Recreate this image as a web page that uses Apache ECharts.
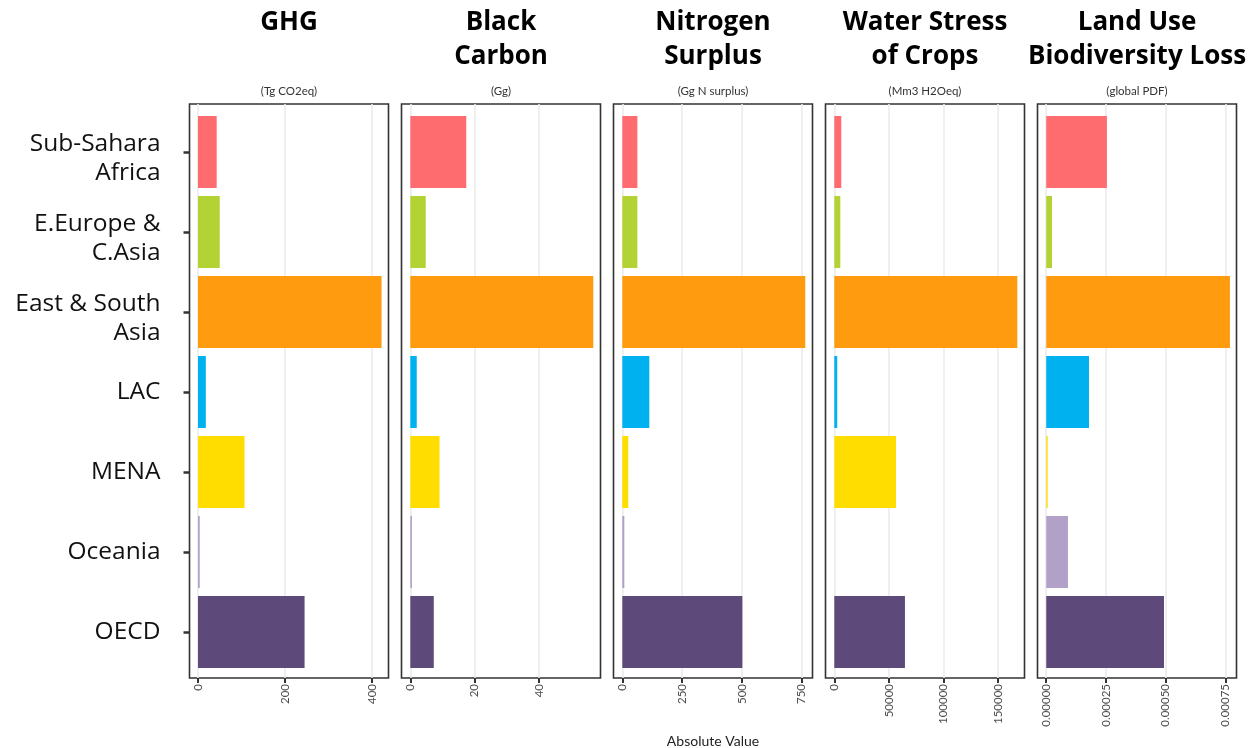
<!DOCTYPE html>
<html>
<head>
<meta charset="utf-8">
<script src="https://cdn.jsdelivr.net/npm/echarts@6/dist/echarts.min.js"></script>
<style>
  html, body { margin: 0; padding: 0; background: #ffffff; }
  #chart { width: 1252px; height: 748px; }
</style>
</head>
<body>
<div id="chart"></div>
<script>
// Regions (rows, top to bottom)
const regions = ["Sub-Sahara\nAfrica", "E.Europe &\nC.Asia", "East & South\nAsia", "LAC", "MENA", "Oceania", "OECD"];
const regionColors = ["#FF6C70", "#B3D335", "#FF9B0E", "#00B1F0", "#FFDD00", "#B1A1C8", "#5E4A7A"];

// Indicator values per region
const ghg = [43, 50, 422, 18, 107, 4, 245];
const blackCarbon = [17.4, 4.8, 56.9, 2.0, 9.1, 0.5, 7.3];
const nitrogenSurplus = [63, 63, 765, 113, 25, 8.5, 502];
const waterStress = [6400, 5500, 167600, 2700, 56500, 0, 64700];
const landUseBiodiversity = [0.000254, 0.000024, 0.000769, 0.000179, 0.000006, 0.000091, 0.000493];

// Panel titles, units and tick labels
const panelTitles = ["GHG", "Black\nCarbon", "Nitrogen\nSurplus", "Water Stress\nof Crops", "Land Use\nBiodiversity Loss"];
const panelUnits = ["(Tg CO2eq)", "(Gg)", "(Gg N surplus)", "(Mm3 H2Oeq)", "(global PDF)"];
const ghgTicks = [0, 200, 400];
const blackCarbonTicks = [0, 20, 40];
const nitrogenTicks = [0, 250, 500, 750];
const waterTicks = [0, 50000, 100000, 150000];
const landUseTicks = [0, 0.00025, 0.0005, 0.00075];
const xAxisTitle = "Absolute Value";

const panelValues = [ghg, blackCarbon, nitrogenSurplus, waterStress, landUseBiodiversity];
const panelTicks = [ghgTicks, blackCarbonTicks, nitrogenTicks, waterTicks, landUseTicks];

// Layout: each facet panel and its free x range
const panelLeft = [189.5, 401.5, 613.5, 825.5, 1037.5];
const panelWidth = 199;
const frameTop = 104, frameHeight = 574;
const barTop = 112, barHeight = 560;
const xRanges = [
  [-19.5, 437.9],
  [-2.74, 59.14],
  [-36.8, 795.2],
  [-8060, 174180],
  [-0.0000366, 0.0007965]
];
const tickFormat = [
  v => String(v),
  v => String(v),
  v => String(v),
  v => String(v),
  v => Number(v).toFixed(5)
];

// Two-line region labels sit slightly lower than their tick
function regionLabel(name) {
  const lines = name.split('\n');
  if (lines.length > 1) {
    return '{pad|}\n' + lines.map(l => '{t|' + l + '}').join('\n');
  }
  return '{t|' + name + '}';
}

const grids = [], xAxes = [], yAxes = [], series = [], graphics = [];

panelValues.forEach((vals, i) => {
  const left = panelLeft[i];
  const [xmin, xmax] = xRanges[i];

  // Frame grid: border, grid lines, bottom ticks and labels
  grids.push({
    left: left, top: frameTop, width: panelWidth, height: frameHeight,
    show: true, borderColor: '#333333', borderWidth: 1.6, backgroundColor: 'transparent'
  });
  xAxes.push({
    type: 'value', gridIndex: 2 * i, min: xmin, max: xmax,
    axisLine: { show: false, onZero: false },
    axisTick: { show: true, length: 5, customValues: panelTicks[i],
      lineStyle: { color: '#333333', width: 2 } },
    axisLabel: { show: true, customValues: panelTicks[i], rotate: 90, margin: 6,
      fontFamily: 'Lato', fontSize: 11.5, color: '#4d4d4d',
      formatter: tickFormat[i] },
    splitLine: { show: true, lineStyle: { color: '#ebebeb', width: 1.6 } }
  });
  yAxes.push({ type: 'value', gridIndex: 2 * i, min: 0, max: 1, show: false });

  // Bar grid: one band per region
  grids.push({ left: left, top: barTop, width: panelWidth, height: barHeight });
  xAxes.push({ type: 'value', gridIndex: 2 * i + 1, min: xmin, max: xmax, show: false });
  yAxes.push({
    type: 'category', gridIndex: 2 * i + 1, data: regions, inverse: true,
    show: i === 0,
    axisLine: { show: false, onZero: false },
    axisTick: { show: i === 0, alignWithLabel: true, length: 6, inside: false,
      lineStyle: { color: '#333333', width: 2.5 } },
    axisLabel: { show: i === 0, interval: 0, margin: 29, align: 'right',
      formatter: regionLabel,
      rich: {
        t: { fontFamily: 'Open Sans', fontSize: 24.5, lineHeight: 29, color: '#111111', align: 'right' },
        pad: { height: 13, lineHeight: 13, fontSize: 10, align: 'right' }
      } },
    splitLine: { show: false }
  });
  series.push({
    type: 'bar', xAxisIndex: 2 * i + 1, yAxisIndex: 2 * i + 1,
    barWidth: '90%', silent: true, animation: false,
    data: vals.map((v, k) => ({ value: v, itemStyle: { color: regionColors[k] } }))
  });

  const cx = left + panelWidth / 2;
  graphics.push({
    type: 'text', x: cx, y: 6,
    style: { text: panelTitles[i], fill: '#000000', align: 'center', verticalAlign: 'top',
      font: 'bold 26px "Open Sans"', lineHeight: 34 }
  });
  graphics.push({
    type: 'text', x: cx, y: 91,
    style: { text: panelUnits[i], fill: '#333333', align: 'center', verticalAlign: 'middle',
      font: '11.5px Lato' }
  });
});

graphics.push({
  type: 'text', x: 713, y: 741,
  style: { text: xAxisTitle, fill: '#222222', align: 'center', verticalAlign: 'middle',
    font: '14px Lato' }
});

const chart = echarts.init(document.getElementById('chart'), null, { renderer: 'canvas' });
chart.setOption({
  animation: false,
  backgroundColor: '#ffffff',
  grid: grids,
  xAxis: xAxes,
  yAxis: yAxes,
  series: series,
  graphic: graphics
});
</script>
</body>
</html>
